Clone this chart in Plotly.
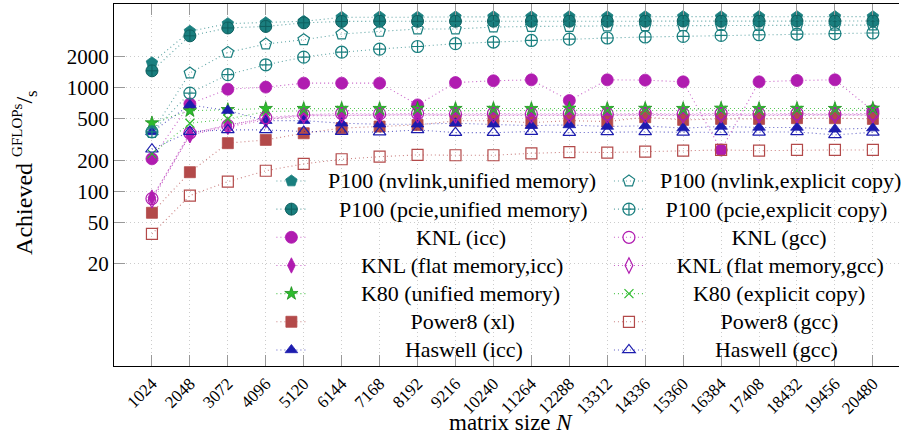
import math
import plotly.graph_objects as go

# ---------------- data ----------------
N = [1024, 2048, 3072, 4096, 5120, 6144, 7168, 8192, 9216, 10240,
     11264, 12288, 13312, 14336, 15360, 16384, 17408, 18432, 19456, 20480]
N_LABELS = [str(v) for v in N]
Y_TICKS = [20, 50, 100, 200, 500, 1000, 2000]

p100_nvlink_unified = [1745, 3520, 4170, 4250, 4400, 4800, 4850, 4820, 4850, 4870,
                       4850, 4880, 4860, 4870, 4880, 4860, 4880, 4870, 4880, 4870]
p100_nvlink_explicit = [370, 1390, 2200, 2650, 2920, 3310, 3510, 3700, 3700, 3870,
                        3920, 3920, 3950, 3980, 3990, 4000, 4010, 4020, 4030, 4040]
p100_pcie_unified = [1460, 3180, 3790, 3920, 4250, 4380, 4400, 4390, 4400, 4410,
                     4400, 4410, 4400, 4410, 4420, 4400, 4410, 4420, 4410, 4420]
p100_pcie_explicit = [375, 890, 1340, 1670, 1980, 2210, 2370, 2510, 2670, 2770,
                      2870, 2960, 3030, 3100, 3140, 3210, 3260, 3310, 3340, 3390]
knl_icc = [206, 700, 970, 1016, 1110, 1110, 1110, 684, 1125, 1170,
           1195, 754, 1195, 1187, 1143, 251, 1143, 1177, 1195, 600]
knl_gcc = [85, 366, 431, 516, 550, 565, 560, 565, 560, 565,
           560, 565, 560, 565, 560, 565, 560, 565, 560, 565]
knl_flat_icc = [87, 355, 440, 500, 545, 550, 548, 550, 548, 552,
                548, 550, 548, 552, 548, 550, 548, 552, 548, 550]
knl_flat_gcc = [82, 350, 420, 490, 538, 542, 540, 544, 540, 542,
                540, 544, 540, 542, 540, 544, 540, 542, 540, 544]
k80_unified = [458, 600, 615, 630, 630, 632, 630, 634, 630, 632,
               630, 634, 630, 632, 630, 634, 630, 632, 630, 634]
k80_explicit = [230, 455, 500, 590, 600, 605, 602, 606, 602, 605,
                602, 606, 602, 605, 602, 606, 602, 605, 602, 606]
power8_xl = [62, 153, 292, 314, 364, 408, 423, 438, 480, 482,
             461, 482, 472, 520, 490, 501, 501, 509, 509, 501]
power8_gcc = [38.7, 91, 124, 158, 184, 204, 216, 225, 223, 223,
              233, 239, 237, 242, 247, 251, 247, 251, 251, 251]
haswell_icc = [375, 684, 603, 482, 482, 455, 445, 445, 455, 445,
               431, 438, 423, 429, 408, 423, 414, 414, 398, 408]
haswell_gcc = [255, 378, 392, 392, 378, 378, 373, 392, 369, 369,
               378, 369, 375, 375, 372, 375, 372, 375, 351, 372]

# ---------------- styling ----------------
FONT = "Liberation Serif"
TEAL = "#1a7f7f"
TEAL_L = "rgba(26,127,127,0.7)"
MAG = "#b01cb0"
MAG_L = "rgba(176,28,176,0.7)"
GRN = "#2dbb2d"
GRN_L = "rgba(45,187,45,0.8)"
RED = "#b34a4a"
RED_L = "rgba(179,74,74,0.7)"
BLU = "#1c1cae"
BLU_L = "rgba(28,28,174,0.7)"

NB = "\u00a0"

# (name, values, symbol, marker colour, line colour, filled, legend, left pad, size)
series = [
    ("P100 (nvlink,unified memory)", p100_nvlink_unified, "pentagon", TEAL, TEAL_L, True, "legend", 3, 12),
    ("P100 (pcie,unified memory)", p100_pcie_unified, "circle-cross", TEAL, TEAL_L, True, "legend", 5, 12),
    ("KNL (icc)", knl_icc, "circle", MAG, MAG_L, True, "legend", 19, 12),
    ("KNL (flat memory,icc)", knl_flat_icc, "diamond-tall", MAG, MAG_L, True, "legend", 9, 11),
    ("K80 (unified memory)", k80_unified, "star", GRN, GRN_L, True, "legend", 9, 10),
    ("Power8 (xl)", power8_xl, "square", RED, RED_L, True, "legend", 18, 11),
    ("Haswell (icc)", haswell_icc, "triangle-up", BLU, BLU_L, True, "legend", 17, 11),
    ("P100 (nvlink,explicit copy)", p100_nvlink_explicit, "pentagon-open", TEAL, TEAL_L, False, "legend2", 2, 12),
    ("P100 (pcie,explicit copy)", p100_pcie_explicit, "circle-cross-open", TEAL, TEAL_L, False, "legend2", 3, 12),
    ("KNL (gcc)", knl_gcc, "circle-open", MAG, MAG_L, False, "legend2", 15, 12),
    ("KNL (flat memory,gcc)", knl_flat_gcc, "diamond-tall-open", MAG, MAG_L, False, "legend2", 5, 11),
    ("K80 (explicit copy)", k80_explicit, "x-thin-open", GRN, GRN_L, False, "legend2", 8, 9),
    ("Power8 (gcc)", power8_gcc, "square-open", RED, RED_L, False, "legend2", 13, 11),
    ("Haswell (gcc)", haswell_gcc, "triangle-up-open", BLU, BLU_L, False, "legend2", 12, 11),
]

fig = go.Figure()
for i, (name, vals, sym, mc, lc, filled, leg, lp, sz) in enumerate(series):
    marker = dict(symbol=sym, size=sz, color=mc,
                  line=dict(color=mc, width=1.2 if not filled else 0.8))
    if sym == "circle-cross":
        marker["line"] = dict(color="#0f5f5f", width=1)
    if sym == "star":
        marker["line"] = dict(color="#1f8f1f", width=0.8)
    label = "<span style='font-size:22px'>" + NB * lp + name + "</span>"
    fig.add_trace(go.Scatter(
        x=N, y=vals, mode="lines+markers", name=label,
        line=dict(color=lc, width=1.1, dash="1px,3px"),
        marker=marker, legend=leg, legendgroup="g%d" % i,
    ))

PL, PR, PT, PB = 114, 0, 4, 69
W, H = 907, 435
pw, ph = W - PL - PR, H - PT - PB


def px_x(px):
    return (px - PL) / pw


def px_y(py):
    return (H - PB - py) / ph


LEG_FONT = dict(family=FONT, size=19.2)
fig.update_layout(
    width=W, height=H,
    margin=dict(l=PL, r=PR, t=PT, b=PB),
    paper_bgcolor="white", plot_bgcolor="white",
    font=dict(family=FONT, color="black"),
    legend=dict(x=px_x(273), y=px_y(162), xanchor="left", yanchor="top",
                bgcolor="rgba(0,0,0,0)", borderwidth=0, tracegroupgap=0.2,
                font=LEG_FONT, traceorder="grouped"),
    legend2=dict(x=px_x(614), y=px_y(162), xanchor="left", yanchor="top",
                 bgcolor="rgba(0,0,0,0)", borderwidth=0, tracegroupgap=0.2,
                 font=LEG_FONT, traceorder="grouped"),
    shapes=[dict(type="rect", xref="paper", yref="paper", layer="between",
                 x0=px_x(271), x1=1.0, y0=px_y(359), y1=px_y(167),
                 fillcolor="white", line=dict(width=0))],
    annotations=[
        dict(text="Achieved <sup><span style='font-size:15px'>GFLOPs</span></sup>/<sub>s</sub>",
             textangle=-90,
             xref="paper", yref="paper", x=px_x(24), y=px_y(172),
             xanchor="center", yanchor="middle", showarrow=False,
             font=dict(family=FONT, size=24)),
        dict(text="matrix size <i>N</i>",
             xref="paper", yref="paper", x=px_x(515), y=px_y(422),
             xanchor="center", yanchor="middle", showarrow=False,
             font=dict(family=FONT, size=23)),
    ],
)

fig.update_xaxes(
    range=[0, 21185], tickvals=N, ticktext=N_LABELS, tickangle=-45,
    ticks="inside", ticklen=11, tickcolor="#999999", tickwidth=1,
    showline=True, linecolor="black", linewidth=1.3, mirror="ticks",
    showgrid=True, gridcolor="#cccccc", griddash="1px,3px", gridwidth=1,
    zeroline=False, tickfont=dict(family=FONT, size=17),
)
fig.update_yaxes(
    type="log", range=[math.log10(2.05), math.log10(6460)],
    tickvals=Y_TICKS, ticktext=[str(v) for v in Y_TICKS],
    ticks="inside", ticklen=11, tickcolor="#999999", tickwidth=1,
    showline=True, linecolor="black", linewidth=1.3,
    showgrid=True, gridcolor="#cccccc", griddash="1px,3px", gridwidth=1,
    zeroline=False, tickfont=dict(family=FONT, size=21),
)

fig.write_html("out.html", config={"displayModeBar": False},
               post_script="document.body.style.margin='0px';")
